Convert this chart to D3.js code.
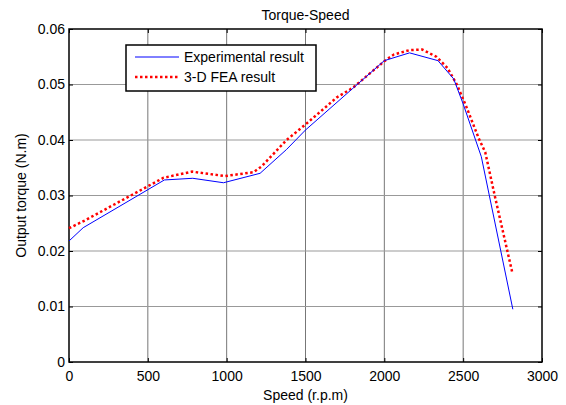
<!DOCTYPE html>
<html>
<head>
<meta charset="utf-8">
<script src="https://cdn.jsdelivr.net/npm/d3@7"></script>
<style>
  body { margin: 0; background: #fff; }
  text { font-family: Arial, "Liberation Sans", sans-serif; }
</style>
</head>
<body>
<div id="chart"></div>
<script>
// values
const titleText = "Torque-Speed"
const xLabel = "Speed (r.p.m)"
const yLabel = "Output torque (N.m)"
const seriesNames = ["Experimental result", "3-D FEA result"]

const speedExp  = [0, 90, 605, 785, 980, 1212, 1380, 1500, 1800, 2000, 2160, 2340, 2440, 2500, 2615, 2815]
const torqueExp = [0.0218, 0.0242, 0.0328, 0.0331, 0.0323, 0.0340, 0.0383, 0.0418, 0.0493, 0.0543, 0.0557, 0.0543, 0.0510, 0.0465, 0.0370, 0.0095]

const speedFea  = [0, 100, 600, 780, 990, 1170, 1220, 1300, 1380, 1500, 1700, 1800, 2000, 2060, 2160, 2240, 2330, 2400, 2460, 2520, 2600, 2640, 2700, 2810]
const torqueFea = [0.0241, 0.0255, 0.0332, 0.0343, 0.0335, 0.0342, 0.0352, 0.0376, 0.0400, 0.0428, 0.0477, 0.0494, 0.0542, 0.0554, 0.0562, 0.0563, 0.0550, 0.0530, 0.0500, 0.0460, 0.0402, 0.0378, 0.0300, 0.0163]

const xTicks = [0, 500, 1000, 1500, 2000, 2500, 3000]
const yTicks = [0, 0.01, 0.02, 0.03, 0.04, 0.05, 0.06]

const width = 566, height = 405
const marginLeft = 69, marginRight = 24, marginTop = 29, marginBottom = 43

const x = d3.scaleLinear([0, 3000], [marginLeft, width - marginRight])
const y = d3.scaleLinear([0, 0.06], [height - marginBottom, marginTop])

const svg = d3.select("#chart").append("svg")
    .attr("width", width)
    .attr("height", height)
    .attr("viewBox", [0, 0, width, height])

// grid
svg.append("g")
  .selectAll("line")
  .data(xTicks.slice(1, -1))
  .join("line")
    .attr("x1", d => x(d)).attr("x2", d => x(d))
    .attr("y1", y(0)).attr("y2", y(0.06))
    .attr("stroke", "#777")
    .attr("stroke-width", 1)

svg.append("g")
  .selectAll("line")
  .data(yTicks.slice(1, -1))
  .join("line")
    .attr("x1", x(0)).attr("x2", x(3000))
    .attr("y1", d => y(d)).attr("y2", d => y(d))
    .attr("stroke", "#999")
    .attr("stroke-width", 1.2)

// axes, ticks pointing inward
const fmtY = d => d === 0 ? "0" : d3.format(".2f")(d)

svg.append("g")
    .attr("transform", `translate(0,${y(0)})`)
    .call(d3.axisBottom(x).tickValues(xTicks).tickFormat(d3.format("d")).tickSize(-4).tickPadding(9))
    .call(g => g.select(".domain").remove())
    .call(g => g.selectAll("text").attr("font-size", 14).attr("fill", "#000"))

svg.append("g")
    .attr("transform", `translate(0,${y(0.06)})`)
    .call(d3.axisTop(x).tickValues(xTicks).tickFormat("").tickSize(-4))
    .call(g => g.select(".domain").remove())

svg.append("g")
    .attr("transform", `translate(${x(0)},0)`)
    .call(d3.axisLeft(y).tickValues(yTicks).tickFormat(fmtY).tickSize(-4).tickPadding(4))
    .call(g => g.select(".domain").remove())
    .call(g => g.selectAll("text").attr("font-size", 14).attr("fill", "#000"))

svg.append("g")
    .attr("transform", `translate(${x(3000)},0)`)
    .call(d3.axisRight(y).tickValues(yTicks).tickFormat("").tickSize(-4))
    .call(g => g.select(".domain").remove())

// box
svg.append("rect")
    .attr("x", x(0)).attr("y", y(0.06))
    .attr("width", x(3000) - x(0)).attr("height", y(0) - y(0.06))
    .attr("fill", "none")
    .attr("stroke", "#000")
    .attr("stroke-width", 1.5)

// lines
const lineExp = d3.line().x(i => x(speedExp[i])).y(i => y(torqueExp[i]))
const lineFea = d3.line().x(i => x(speedFea[i])).y(i => y(torqueFea[i]))

svg.append("path")
    .attr("fill", "none")
    .attr("stroke", "#ff0000")
    .attr("stroke-width", 2.5)
    .attr("stroke-dasharray", "2.5,2.5")
    .attr("d", lineFea(d3.range(speedFea.length)))

svg.append("path")
    .attr("fill", "none")
    .attr("stroke", "#0000ff")
    .attr("stroke-width", 1)
    .attr("d", lineExp(d3.range(speedExp.length)))

// title + labels
svg.append("text")
    .attr("x", (x(0) + x(3000)) / 2).attr("y", 20)
    .attr("text-anchor", "middle").attr("font-size", 14)
    .text(titleText)

svg.append("text")
    .attr("x", (x(0) + x(3000)) / 2).attr("y", 400)
    .attr("text-anchor", "middle").attr("font-size", 14)
    .text(xLabel)

svg.append("text")
    .attr("transform", `translate(26,${(y(0) + y(0.06)) / 2}) rotate(-90)`)
    .attr("text-anchor", "middle").attr("font-size", 14)
    .text(yLabel)

// legend
const legend = svg.append("g").attr("transform", "translate(126,45)")
legend.append("rect")
    .attr("width", 190).attr("height", 46)
    .attr("fill", "#fff")
    .attr("stroke", "#000")
    .attr("stroke-width", 1.5)

const legendStyles = [
  { color: "#0000ff", w: 1, dash: null },
  { color: "#ff0000", w: 2.5, dash: "2.5,2.5" }
]
seriesNames.forEach((name, i) => {
  const yy = 12 + i * 20
  legend.append("line")
      .attr("x1", 9).attr("x2", 53)
      .attr("y1", yy).attr("y2", yy)
      .attr("stroke", legendStyles[i].color)
      .attr("stroke-width", legendStyles[i].w)
      .attr("stroke-dasharray", legendStyles[i].dash)
  legend.append("text")
      .attr("x", 58).attr("y", yy + 5)
      .attr("font-size", 14)
      .text(name)
})
</script>
</body>
</html>
